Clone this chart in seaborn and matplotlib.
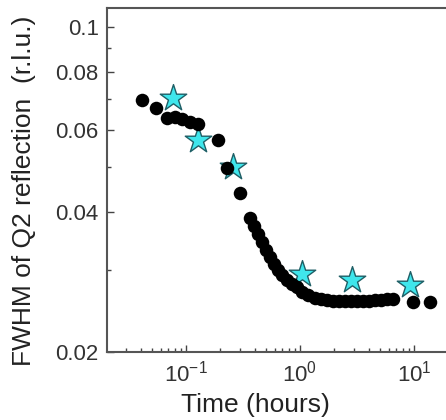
import numpy as np
import pandas as pd
import matplotlib
matplotlib.use("Agg")
import matplotlib.pyplot as plt
from matplotlib.ticker import FixedLocator, NullFormatter, LogLocator, LogFormatterSciNotation
import seaborn as sns

# black circles: FWHM vs time (hours)
dot_time = [0.0409, 0.0545, 0.0677, 0.0801, 0.0922, 0.108, 0.127, 0.191, 0.229,
            0.298, 0.364, 0.395, 0.428, 0.465, 0.503, 0.546, 0.592, 0.641, 0.695,
            0.769, 0.851, 0.941, 1.04, 1.175, 1.35, 1.53, 1.73, 1.95, 2.20, 2.48,
            2.80, 3.16, 3.57, 4.03, 4.55, 5.14, 5.80, 6.54, 9.80, 13.8]
dot_fwhm = [0.0697, 0.0670, 0.0637, 0.0642, 0.0634, 0.0626, 0.0618, 0.0572, 0.0498,
            0.0440, 0.0388, 0.0373, 0.0359, 0.0345, 0.0331, 0.0320, 0.0309, 0.0300, 0.0293,
            0.0286, 0.0280, 0.0276, 0.0269, 0.0265, 0.0262, 0.0260, 0.0259, 0.0258, 0.0258, 0.0258,
            0.0258, 0.0258, 0.0258, 0.0258, 0.0259, 0.0259, 0.0260, 0.0260, 0.0256, 0.0256]

# cyan stars
star_time = [0.0774, 0.128, 0.26, 1.035, 2.84, 9.22]
star_fwhm = [0.0703, 0.0572, 0.0500, 0.0295, 0.0286, 0.0279]

y_major = [0.02, 0.04, 0.06, 0.08, 0.1]
y_minor = [0.03, 0.05, 0.07, 0.09]

sns.set_style("white")
plt.rcParams['font.family'] = ['Liberation Sans', 'DejaVu Sans']
plt.rcParams['mathtext.fontset'] = 'custom'
plt.rcParams['mathtext.rm'] = 'Liberation Sans'

dots = pd.DataFrame({"time": dot_time, "fwhm": dot_fwhm})
stars = pd.DataFrame({"time": star_time, "fwhm": star_fwhm})

fig = plt.figure(figsize=(4.46, 4.2), dpi=100)
ax = fig.add_axes([107 / 446, 68 / 420, 339 / 446, 344 / 420])

sns.scatterplot(data=stars, x="time", y="fwhm", marker="*", s=400,
                color="#3fe6ec", edgecolor="#1f5f66", linewidth=1.0, ax=ax, zorder=2)
sns.scatterplot(data=dots, x="time", y="fwhm", marker="o", s=95,
                color="black", edgecolor="black", linewidth=0, ax=ax, zorder=3)

ax.set_xscale("log")
ax.set_yscale("log")
ax.set_xlim(0.0203, 19.1)
ax.set_ylim(0.02, 0.110)

ax.yaxis.set_major_locator(FixedLocator(y_major))
ax.yaxis.set_minor_locator(FixedLocator(y_minor))
ax.set_yticklabels([str(v) for v in y_major])
ax.yaxis.set_minor_formatter(NullFormatter())

ax.xaxis.set_major_locator(LogLocator(base=10))
ax.xaxis.set_major_formatter(LogFormatterSciNotation())
ax.xaxis.set_minor_locator(LogLocator(base=10, subs=np.arange(2, 10)))
ax.xaxis.set_minor_formatter(NullFormatter())

ax.tick_params(which="both", direction="in", bottom=True, left=True,
               colors="#444444", labelcolor="#333333", labelsize=16, width=1)
ax.tick_params(which="major", length=5, pad=6)
ax.tick_params(which="minor", length=3)

for side in ["left", "bottom", "top"]:
    ax.spines[side].set_color("#555555")
    ax.spines[side].set_linewidth(1.5)
ax.spines["right"].set_visible(False)

ax.set_xlabel("Time (hours)", fontsize=19, color="#222222")
ax.set_ylabel("FWHM of Q2 reflection  (r.l.u.)", fontsize=19, color="#222222")
ax.xaxis.set_label_coords((255 - 107) / 339, -0.12)
ax.yaxis.set_label_coords(-0.21, 0.47)

fig.savefig("out.png", dpi=100)
